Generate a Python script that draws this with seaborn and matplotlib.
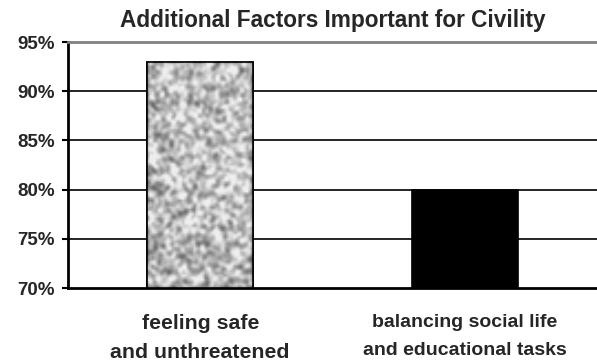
import numpy as np
import pandas as pd
import matplotlib
matplotlib.use("Agg")
import matplotlib.pyplot as plt
import seaborn as sns

categories = ["feeling safe\nand unthreatened", "balancing social life\nand educational tasks"]
values = [93, 80]
yticks = [70, 75, 80, 85, 90, 95]
ytick_labels = ["70%", "75%", "80%", "85%", "90%", "95%"]
title = "Additional Factors Important for Civility"

sns.set_style("white")
plt.rcParams['font.family'] = ['Liberation Sans', 'DejaVu Sans']

fig = plt.figure(figsize=(5.97, 3.62), dpi=100)
ax = fig.add_axes([68/597, 1 - 288/362, 1 - 68/597, (288 - 42)/362])

df = pd.DataFrame({"cat": categories, "val": values})
sns.barplot(data=df, x="cat", y="val", ax=ax, width=0.4,
            palette=["#b0b0b0", "#000000"], hue="cat", legend=False,
            edgecolor="black", linewidth=1.2, saturation=1, zorder=3)

ax.set_ylim(70, 95)
ax.set_xlim(-0.5, 1.5)
ax.set_yticks(yticks)
ax.set_yticklabels(ytick_labels, fontsize=13.5, fontweight="bold")
ax.set_xlabel("")
ax.set_ylabel("")
ax.tick_params(axis="x", length=0, pad=19)
for lbl, fs in zip(ax.get_xticklabels(), [15.3, 14]):
    lbl.set_fontsize(fs)
    lbl.set_fontweight("bold")
    lbl.set_linespacing(1.8 * 14 / fs)
ax.tick_params(axis="y", length=4.3, width=1.5, direction="out", color="black", pad=5, left=True)

for y in [75, 80, 85, 90]:
    ax.axhline(y, color="black", linewidth=1.2, zorder=1)

ax.spines["right"].set_visible(False)
ax.spines["top"].set_color("#808080")
ax.spines["top"].set_linewidth(2)
for s in ["left", "bottom"]:
    ax.spines[s].set_color("black")
    ax.spines[s].set_linewidth(2)

ax.set_title(title, fontsize=16.3, fontweight="bold", pad=11)

# granite texture fill on the visible part of the first bar (styling only)
patch = ax.patches[0]
x0, w = patch.get_x(), patch.get_width()
top = patch.get_y() + patch.get_height()
rng = np.random.default_rng(7)
n = rng.random((100, 48))
k = np.array([0.25, 0.5, 0.25])
n = np.apply_along_axis(lambda r: np.convolve(r, k, mode="same"), 0, n)
n = np.apply_along_axis(lambda r: np.convolve(r, k, mode="same"), 1, n)
n = (n - n.mean()) / n.std()
tex = np.clip(0.74 + 0.13 * n, 0.25, 0.93)
im = ax.imshow(tex, cmap="gray", vmin=0, vmax=1, extent=[x0, x0 + w, 70, top],
               aspect="auto", interpolation="bilinear", zorder=3.5)
ax.add_patch(plt.Rectangle((x0, 70), w, top - 70, fill=False, edgecolor="black",
                           linewidth=1.2, zorder=4))
ax.set_xlim(-0.5, 1.5)
ax.set_ylim(70, 95)

fig.savefig("out.png", dpi=100)
